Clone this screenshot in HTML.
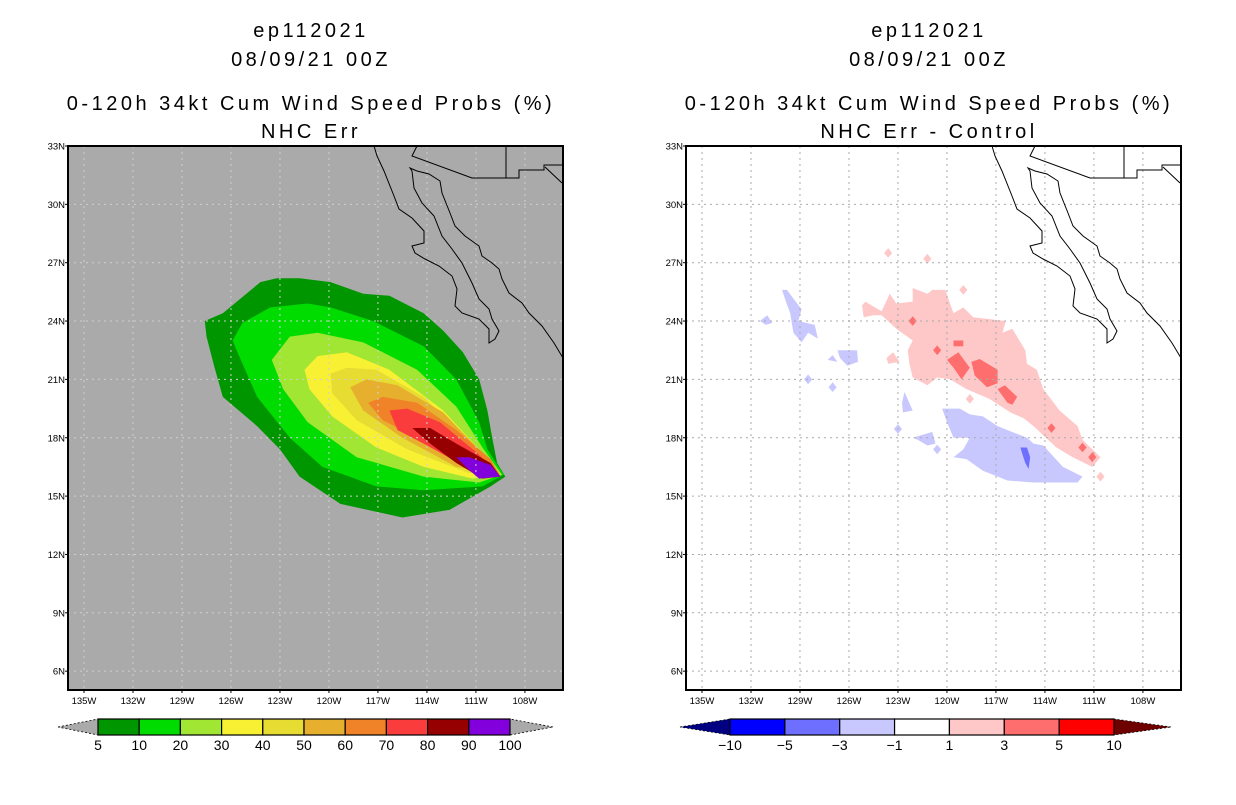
<!DOCTYPE html>
<html><head><meta charset="utf-8">
<style>
body{margin:0;background:#fff;}
svg text{font-family:"Liberation Sans",sans-serif;}
.tt{letter-spacing:3.5px;}
</style></head>
<body>
<svg id="root" width="1236" height="800" viewBox="0 0 1236 800" xmlns="http://www.w3.org/2000/svg">
<g font-size="20" text-anchor="middle" fill="#000" class="tt">
<text x="311" y="37">ep112021</text>
<text x="311" y="66">08/09/21 00Z</text>
<text x="311" y="110">0-120h 34kt Cum Wind Speed Probs (%)</text>
<text x="311" y="138">NHC Err</text>
</g>
<g font-size="20" text-anchor="middle" fill="#000" class="tt">
<text x="929" y="37">ep112021</text>
<text x="929" y="66">08/09/21 00Z</text>
<text x="929" y="110">0-120h 34kt Cum Wind Speed Probs (%)</text>
<text x="929" y="138">NHC Err - Control</text>
</g>
<g id="left"></g>
<g id="right"></g>
<g id="cbl"></g>
<g id="cbr"></g>
</svg>
<script>
const NS="http://www.w3.org/2000/svg";
// axes
const latTicks=[30,27,24,21,18,15,12,9,6];
const lonTicks=[135,132,129,126,123,120,117,114,111,108];
// probability contours (lon W, lat N)
const probLevels=[5,10,20,30,40,50,60,70,80,90];
const probColors=["#009600","#00dc00","#a0e632","#f8f032","#e6dc32","#e6af2d","#f08228","#fa3c3c","#960000","#8200dc"];
const p5=[[127.6,24.0],[126.5,24.4],[124.2,26.0],[123.2,26.2],[121.8,26.2],[119.9,26.0],[117.9,25.4],[116.3,25.3],[114.2,24.4],[113.0,23.5],[111.8,22.4],[110.8,21.0],[110.3,19.4],[110.0,18.0],[109.7,16.7],[109.2,16.0],[110.1,15.5],[112.6,14.3],[115.5,13.9],[119.3,14.6],[121.8,16.0],[123.0,17.4],[124.4,18.6],[126.5,20.1],[127.0,21.6],[127.5,23.2]];
const p10=[[125.9,23.0],[125.3,23.9],[123.6,24.7],[121.3,24.9],[119.9,24.7],[117.3,24.0],[114.2,22.7],[112.2,21.0],[110.8,18.8],[110.3,17.4],[109.3,16.1],[110.6,15.5],[114.2,15.3],[117.1,15.5],[120.4,16.5],[122.4,18.0],[124.4,20.1],[125.4,22.0]];
const p20=[[123.5,22.0],[122.4,23.2],[120.7,23.4],[117.9,22.9],[114.6,21.5],[112.2,19.6],[110.6,17.5],[109.4,16.1],[110.8,15.7],[114.2,16.0],[118.3,17.0],[121.3,18.8],[122.8,20.5]];
const p30=[[121.5,21.5],[120.7,22.2],[118.9,22.4],[116.3,21.5],[113.0,19.4],[110.8,17.4],[109.5,16.1],[111.2,15.9],[114.2,16.5],[117.1,17.5],[119.8,19.1],[121.2,20.5]];
const p40=[[119.9,21.3],[118.9,21.6],[117.1,21.5],[114.2,20.1],[111.2,17.7],[109.5,16.1],[111.5,16.2],[115.2,17.4],[118.3,18.9],[119.8,20.3]];
const p50=[[118.7,20.6],[117.7,21.0],[115.8,20.7],[113.0,19.3],[110.6,17.2],[109.5,16.1],[112.2,16.5],[115.5,18.0],[117.9,19.4]];
const p60=[[117.6,19.8],[116.7,20.1],[114.6,19.8],[112.2,18.4],[110.1,16.9],[109.5,16.0],[111.5,16.5],[114.6,18.0],[116.7,18.9]];
const p70=[[116.3,19.4],[115.2,19.5],[113.2,18.8],[110.9,17.2],[109.5,16.0],[111.2,16.3],[114.2,17.7],[115.8,18.4]];
const p80=[[114.9,18.5],[113.8,18.5],[112.2,17.7],[110.1,16.7],[109.5,16.0],[110.6,15.9],[112.2,16.7],[113.8,17.7]];
const p90=[[112.2,17.0],[111.4,17.0],[110.1,16.6],[109.5,16.0],[110.8,15.9],[111.5,16.4]];
const probPolys=[p5,p10,p20,p30,p40,p50,p60,p70,p80,p90];
// difference contours
const diffLevels=[-10,-5,-3,-1,1,3,5,10];
const diffColors=["#000080","#0000ff","#6e6eff","#c8c8ff","#ffffff","#ffc8c8","#ff6e6e","#ff0000","#6e0000"];
const posLow=[[[125.2,24.8],[125.0,25.0],[124.0,24.5],[123.5,25.4],[123.1,24.9],[122.1,25.0],[122.1,25.7],[121.2,25.4],[120.9,25.6],[120.1,25.6],[119.6,24.4],[119.0,24.7],[118.4,24.2],[116.4,24.0],[116.6,23.4],[116.0,23.6],[115.2,22.5],[115.1,21.8],[114.5,21.5],[114.1,20.5],[113.1,19.4],[112.0,18.6],[111.7,17.9],[110.6,17.0],[111.1,16.5],[112.3,17.0],[113.3,17.5],[114.7,18.6],[115.3,19.0],[116.1,19.3],[117.4,20.0],[118.8,20.5],[119.8,21.0],[120.6,21.1],[121.2,20.7],[122.1,21.1],[122.3,21.8],[122.4,22.5],[122.1,23.0],[123.1,23.6],[124.0,24.3],[124.5,24.3],[125.1,24.2]],
[[123.7,22.1],[123.3,22.4],[122.9,21.9],[123.6,21.8]]];
const posMid=[[[120.0,22.0],[119.3,22.4],[118.6,21.6],[119.1,21.0],[119.6,21.6]],
[[118.5,21.9],[118.0,22.05],[116.9,21.5],[116.9,20.8],[117.55,20.6],[118.3,21.2]],
[[116.9,20.5],[116.45,20.7],[115.7,20.1],[116.0,19.7],[116.3,19.8]],
[[119.6,23.0],[119.0,23.0],[119.0,22.7],[119.6,22.7]]];
const negLow=[[[120.3,19.5],[119.2,19.5],[118.6,19.2],[117.8,19.1],[116.9,18.6],[115.1,18.0],[114.7,17.7],[114.1,17.6],[112.9,16.5],[111.7,16.0],[112.0,15.7],[113.3,15.7],[114.7,15.7],[116.3,15.8],[117.8,16.3],[118.8,16.9],[119.6,17.0],[119.0,17.4],[118.6,18.0],[119.6,18.0],[120.0,18.8]],
[[130.1,25.6],[129.8,25.6],[128.9,24.6],[129.1,24.0],[128.1,23.8],[127.9,23.1],[128.5,23.4],[128.9,22.9],[129.4,23.4],[129.6,24.4],[129.9,25.1]],
[[131.45,24.0],[131.0,24.3],[130.7,23.9],[131.1,23.8]],
[[126.7,22.5],[125.5,22.5],[125.45,21.9],[126.1,21.7],[126.55,22.1]],
[[127.3,22.0],[127.0,22.25],[126.7,21.9]],
[[122.75,19.8],[122.6,20.35],[122.1,19.4],[122.7,19.3]],
[[122.1,18.0],[120.9,18.3],[120.7,17.7],[121.2,17.6],[121.8,17.9]]];
const negMid=[[[115.5,17.5],[115.1,17.5],[114.9,17.0],[115.0,16.4],[115.2,16.7],[115.4,17.2]]];
// small isolated cells: [lon, lat, level index]
const dotLon=[128.5,127.0,123.0,120.6,121.2,123.6,119.0,118.6,110.6,122.1,113.6,111.7,111.1,120.6];
const dotLat=[21.0,20.6,18.45,17.4,27.2,27.5,25.6,20.0,16.0,24.0,18.5,17.5,17.0,22.5];
const dotCls=[3,3,3,3,5,5,5,5,5,6,6,6,6,6];

// frame geometry
const FW=495,FH=544,FT=146;
function xOf(x0,lon){return x0+16+(135-lon)*16.33;}
function yOf(lat){return FT+(33-lat)*19.45;}
function el(tag,attrs,parent){const e=document.createElementNS(NS,tag);for(const k in attrs)e.setAttribute(k,attrs[k]);parent.appendChild(e);return e;}
function poly(x0,pts,fill,parent,name){
  const p=el('polygon',{points:pts.map(q=>xOf(x0,q[0]).toFixed(1)+','+yOf(q[1]).toFixed(1)).join(' '),fill:fill},parent);
  
  
  return p;
}
// basemap coastline (frame-relative pixels)
const coast=[
"M306,0 L309,10 L316,25 L326,50 L331,63 L344,72 L356,85 L356,97 L344,100 L347,107 L357,113 L371,120 L384,130 L389,143 L387,160 L394,167 L411,173 L421,183 L421,197 L427,193 L431,185 L424,173 L421,163 L411,153 L404,137 L394,117 L384,103 L374,90 L366,70 L354,57 L346,42 L344,25 L342,22 L349,25 L361,28 L372,35 L374,47 L382,67 L387,80 L397,90 L411,100 L414,110 L424,117 L431,123 L434,133 L441,147 L454,157 L461,167 L474,180 L486,197 L495,212",
"M349,0 L344,10 L404,32 L451,32 L451,24 L476,24 L476,19 L495,19",
"M438,0 L438,32","M477,21 L494,37"];
function drawMap(x0,gid,bg,gridCol,polysFn){
  const g=document.getElementById(gid);
  const r=el('rect',{x:x0,y:FT,width:FW,height:FH,fill:bg},g);
  
  
  const cg=el('g',{},g);
  
  
  polysFn(x0,cg);
  const gg=el('g',{stroke:gridCol,'stroke-width':1,'stroke-dasharray':'2,4',fill:'none'},g);
  
  
  latTicks.forEach(lat=>{el('line',{x1:x0,x2:x0+FW,y1:yOf(lat),y2:yOf(lat)},gg);});
  lonTicks.forEach(lon=>{el('line',{x1:xOf(x0,lon),x2:xOf(x0,lon),y1:FT,y2:FT+FH},gg);});
  const co=el('g',{transform:`translate(${x0},${FT})`,stroke:'#000','stroke-width':1,fill:'none'},g);
  
  
  coast.forEach(d=>el('path',{d:d},co));
  const fr=el('rect',{x:x0,y:FT,width:FW,height:FH,fill:'none',stroke:'#000','stroke-width':2},g);
  
  
  const lab=el('g',{'font-size':9.5,fill:'#000'},g);
  
  
  const latAll=[33].concat(latTicks);
  latAll.forEach(lat=>{
    const t=el('text',{x:x0-3,y:yOf(lat)+3.5,'text-anchor':'end'},lab);t.textContent=lat+'N';
    
    
    el('line',{x1:x0-3,x2:x0,y1:yOf(lat),y2:yOf(lat),stroke:'#000'},lab);
  });
  lonTicks.forEach(lon=>{
    const t=el('text',{x:xOf(x0,lon),y:FT+FH+14,'text-anchor':'middle'},lab);t.textContent=lon+'W';
    
    
    el('line',{x1:xOf(x0,lon),x2:xOf(x0,lon),y1:FT+FH,y2:FT+FH+3,stroke:'#000'},lab);
  });
}
drawMap(68,'left','#aaaaaa','#cfcfcf',(x0,g)=>{
  probPolys.forEach((pts,i)=>poly(x0,pts,probColors[i],g,'prob-contour-'+probLevels[i]));
});
drawMap(686,'right','#ffffff','#aaaaaa',(x0,g)=>{
  posLow.forEach(p=>poly(x0,p,diffColors[5],g,'diff-contour-pos-1-3'));
  posMid.forEach(p=>poly(x0,p,diffColors[6],g,'diff-contour-pos-3-5'));
  negLow.forEach(p=>poly(x0,p,diffColors[3],g,'diff-contour-neg-1-3'));
  negMid.forEach(p=>poly(x0,p,diffColors[2],g,'diff-contour-neg-3-5'));
  dotLon.forEach((lon,i)=>{
    const d=0.25;
    poly(x0,[[lon+d,dotLat[i]],[lon,dotLat[i]+d],[lon-d,dotLat[i]],[lon,dotLat[i]-d]],diffColors[dotCls[i]],g,'diff-cell');
  });
});
// colorbars
function colorbar(gid,x0,x1,colors,labels,triL,triR,triFill){
  const g=document.getElementById(gid);
  const n=colors.length,w=(x1-x0)/n,y0=719,h=16;
  const a=el('polygon',{points:`${triL},${y0+h/2} ${x0},${y0} ${x0},${y0+h}`,fill:triFill[0],stroke:'#000','stroke-dasharray':'2,2','stroke-width':0.8},g);
  
  
  const b=el('polygon',{points:`${triR},${y0+h/2} ${x1},${y0} ${x1},${y0+h}`,fill:triFill[1],stroke:'#000','stroke-dasharray':'2,2','stroke-width':0.8},g);
  
  
  colors.forEach((c,i)=>{
    const r=el('rect',{x:x0+i*w,y:y0,width:w,height:h,fill:c,stroke:'#000','stroke-width':1.2},g);
    
    
  });
  labels.forEach((l,i)=>{
    const t=el('text',{x:x0+i*w,y:750,'text-anchor':'middle','font-size':14},g);
    t.textContent=String(l).replace('-','\u2212');
    
    
  });
}
colorbar('cbl',98,510,probColors,probLevels.concat([100]),58,553,['#aaaaaa','#aaaaaa']);
colorbar('cbr',730,1114,diffColors.slice(1,8),diffLevels,680,1171,[diffColors[0],diffColors[8]]);
</script>
</body></html>
